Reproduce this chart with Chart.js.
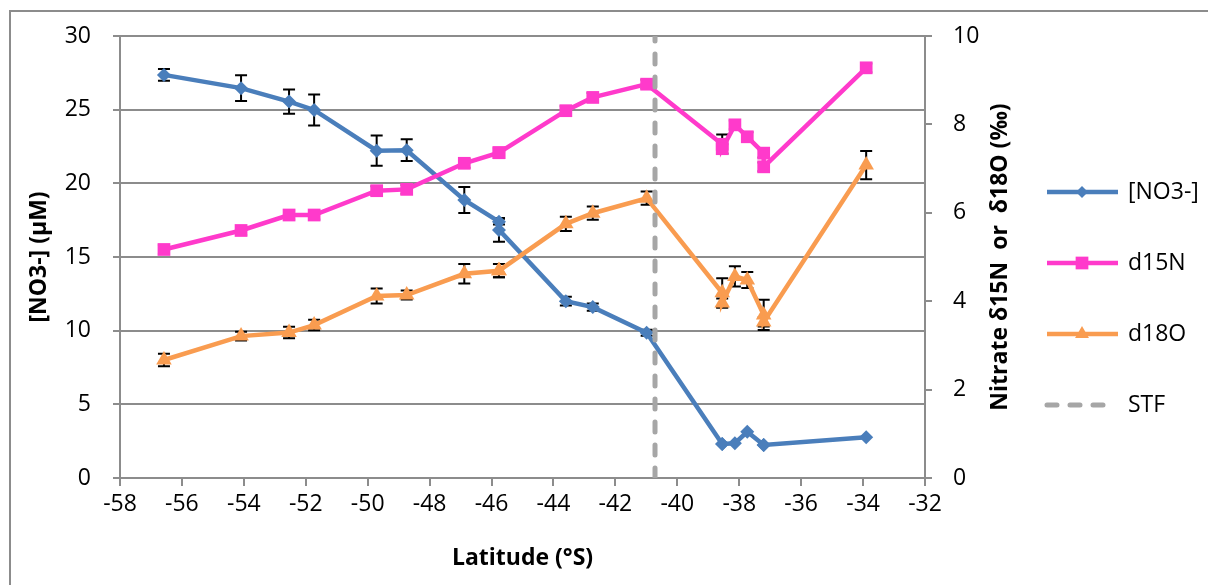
<!DOCTYPE html>
<html>
<head>
<meta charset="utf-8">
<script src="https://cdn.jsdelivr.net/npm/chart.js@4/dist/chart.umd.min.js"></script>
<style>
  html, body { margin: 0; padding: 0; background: #fff; overflow: hidden; }
  canvas { display: block; }
</style>
</head>
<body>
<canvas id="chart" width="1208" height="585"></canvas>
<script>
// --- values ---
const latitude = [-56.58, -54.09, -52.54, -51.73, -49.71, -48.74, -46.88, -45.76, -45.76, -43.6, -42.73, -40.99, -38.55, -38.55, -38.14, -37.74, -37.21, -37.21, -33.9];
const no3 = [27.36, 26.46, 25.55, 24.98, 22.22, 22.25, 18.87, 17.4, 16.84, 12.0, 11.6, 9.86, 2.31, 2.31, 2.36, 3.14, 2.24, 2.24, 2.76];
const no3Err = [0.4, 0.87, 0.82, 1.05, 1.02, 0.74, 0.88, 0.2, 0.8, 0.3, 0.25, 0.2, 0, 0, 0, 0, 0, 0, 0];
const d15n = [5.17, 5.6, 5.95, 5.95, 6.5, 6.53, 7.12, 7.36, 7.36, 8.31, 8.61, 8.91, 7.55, 7.45, 7.99, 7.72, 7.35, 7.04, 9.28];
const d15nErr = [0.1, 0.1, 0.1, 0.1, 0.1, 0.1, 0.1, 0.1, 0.1, 0.1, 0.1, 0.1, 0.22, 0.1, 0.1, 0.1, 0.1, 0.1, 0.1];
const d18o = [2.67, 3.21, 3.29, 3.46, 4.12, 4.14, 4.62, 4.69, 4.69, 5.75, 5.99, 6.33, 4.19, 3.96, 4.56, 4.48, 3.69, 3.53, 7.08];
const d18oErr = [0.14, 0.1, 0.13, 0.12, 0.17, 0.1, 0.22, 0.15, 0.15, 0.16, 0.15, 0.15, 0.33, 0.1, 0.23, 0.18, 0.34, 0.1, 0.32];

// subtropical front marker
const stfLatitude = -40.72;
const stfSpan = [0, 30];

const seriesNames = ["[NO3-]", "d15N", "d18O", "STF"];

// axis ranges
const xMin = -58, xMax = -32, xStep = 2;
const leftMax = 30, leftStep = 5;
const rightMax = 10, rightStep = 2;

const xTitle = "Latitude (°S)";
const leftTitle = "[NO3-] (µM)";
const rightTitle = "Nitrate δ15N  or  δ18O (‰)";

// --- styling ---
const fontFamily = "'Open Sans', 'Liberation Sans', sans-serif";
const tickFont = { family: fontFamily, size: 23 };
const titleFont = { family: fontFamily, size: 23, weight: "bold" };
const gridColor = "#8c8c8c";

const pts = (ys) => latitude.map((x, i) => ({ x, y: ys[i] }));

// draw error bars under the series
const errorBars = {
	id: "errorBars",
	beforeDatasetsDraw(chart) {
		const ctx = chart.ctx;
		ctx.save();
		ctx.strokeStyle = "#000";
		ctx.lineWidth = 2;
		chart.data.datasets.forEach((ds, i) => {
			if (!ds.errors) return;
			const meta = chart.getDatasetMeta(i);
			const yScale = chart.scales[ds.yAxisID];
			meta.data.forEach((pt, j) => {
				const e = ds.errors[j];
				if (!e) return;
				const v = ds.data[j].y;
				const top = yScale.getPixelForValue(v + e);
				const bot = yScale.getPixelForValue(v - e);
				ctx.beginPath();
				ctx.moveTo(pt.x, top);
				ctx.lineTo(pt.x, bot);
				ctx.moveTo(pt.x - 6, top);
				ctx.lineTo(pt.x + 6, top);
				ctx.moveTo(pt.x - 6, bot);
				ctx.lineTo(pt.x + 6, bot);
				ctx.stroke();
			});
		});
		ctx.restore();
	},
};

// white background and outer frame
const frame = {
	id: "frame",
	beforeDraw(chart) {
		const ctx = chart.ctx;
		ctx.save();
		ctx.fillStyle = "#fff";
		ctx.fillRect(0, 0, chart.width, chart.height);
		ctx.strokeStyle = "#8c8c8c";
		ctx.lineWidth = 2;
		ctx.beginPath();
		ctx.moveTo(10, chart.height);
		ctx.lineTo(10, 11);
		ctx.lineTo(chart.width, 11);
		ctx.stroke();
		ctx.restore();
	},
};

// right axis title (reads bottom to top) and legend
const extras = {
	id: "extras",
	afterDraw(chart) {
		const ctx = chart.ctx;
		const area = chart.chartArea;
		ctx.save();
		ctx.fillStyle = "#000";
		ctx.font = "bold 23px " + fontFamily;
		ctx.textAlign = "center";
		ctx.textBaseline = "middle";
		ctx.translate(1000, (area.top + area.bottom) / 2);
		ctx.rotate(-Math.PI / 2);
		ctx.fillText(rightTitle, 0, 0);
		ctx.restore();

		const rows = [192, 263, 334, 405];
		chart.data.datasets.forEach((ds, i) => {
			const y = rows[i];
			ctx.save();
			ctx.strokeStyle = ds.borderColor;
			ctx.lineWidth = ds.borderWidth;
			ctx.lineCap = ds.borderDash ? "round" : "butt";
			ctx.setLineDash(ds.borderDash || []);
			ctx.beginPath();
			ctx.moveTo(1047, y);
			ctx.lineTo(ds.borderDash ? 1110 : 1118, y);
			ctx.stroke();
			ctx.setLineDash([]);
			if (ds.pointRadius > 0) {
				ctx.fillStyle = ds.pointBackgroundColor;
				Chart.helpers.drawPoint(ctx, { pointStyle: ds.pointStyle, radius: ds.legendRadius, borderWidth: 0, rotation: 0 }, 1082, y);
			}
			ctx.fillStyle = "#000";
			ctx.font = "23px " + fontFamily;
			ctx.textAlign = "left";
			ctx.textBaseline = "middle";
			ctx.fillText(ds.label, 1128, y);
			ctx.restore();
		});
	},
};

new Chart(document.getElementById("chart"), {
	type: "scatter",
	data: {
		datasets: [
			{
				label: seriesNames[0],
				data: pts(no3),
				errors: no3Err,
				yAxisID: "yLeft",
				showLine: true,
				borderColor: "#4a7ebb",
				borderWidth: 4.5,
				pointStyle: "rectRot",
				pointRadius: 7,
				legendRadius: 6,
				pointBackgroundColor: "#4a7ebb",
				pointBorderWidth: 0,
				order: 3,
			},
			{
				label: seriesNames[1],
				data: pts(d15n),
				errors: d15nErr,
				yAxisID: "yRight",
				showLine: true,
				borderColor: "#ff3acb",
				borderWidth: 4.5,
				pointStyle: "rect",
				pointRadius: 9,
				legendRadius: 9,
				pointBackgroundColor: "#ff3acb",
				pointBorderWidth: 0,
				order: 2,
			},
			{
				label: seriesNames[2],
				data: pts(d18o),
				errors: d18oErr,
				yAxisID: "yRight",
				showLine: true,
				borderColor: "#f99c50",
				borderWidth: 4.5,
				pointStyle: "triangle",
				pointRadius: 9,
				legendRadius: 8,
				pointBackgroundColor: "#f99c50",
				pointBorderWidth: 0,
				order: 1,
			},
			{
				label: seriesNames[3],
				data: stfSpan.map((y) => ({ x: stfLatitude, y })),
				yAxisID: "yLeft",
				showLine: true,
				borderColor: "#a6a6a6",
				borderWidth: 5,
				borderDash: [10, 13],
				borderCapStyle: "round",
				pointRadius: 0,
				order: 0,
			},
		],
	},
	options: {
		responsive: false,
		devicePixelRatio: 1,
		animation: false,
		layout: { padding: { left: 0, right: 193, top: 36, bottom: 0 } },
		plugins: { legend: { display: false }, tooltip: { enabled: false } },
		scales: {
			x: {
				type: "linear",
				position: "bottom",
				min: xMin,
				max: xMax,
				ticks: { stepSize: xStep, autoSkip: false, maxRotation: 0, color: "#000", font: tickFont, padding: 5 },
				grid: { drawOnChartArea: false, drawTicks: true, tickLength: 8, color: gridColor, lineWidth: 2 },
				border: { color: gridColor, width: 2 },
				title: { display: true, text: xTitle, color: "#000", font: titleFont, padding: { top: 0, bottom: 13 } },
				afterFit: (s) => { s.height = 107; },
			},
			yLeft: {
				type: "linear",
				position: "left",
				min: 0,
				max: leftMax,
				ticks: { stepSize: leftStep, color: "#000", font: tickFont, padding: 22 },
				grid: { drawOnChartArea: true, drawTicks: true, tickLength: 7, color: gridColor, lineWidth: 2 },
				border: { color: gridColor, width: 2 },
				title: { display: true, text: leftTitle, color: "#000", font: titleFont, padding: { top: 26, bottom: 0 } },
				afterFit: (s) => { s.width = 120; },
			},
			yRight: {
				type: "linear",
				position: "right",
				min: 0,
				max: rightMax,
				ticks: { stepSize: rightStep, color: "#000", font: tickFont, padding: 21 },
				grid: { drawOnChartArea: false, drawTicks: true, tickLength: 7, color: gridColor, lineWidth: 2 },
				border: { color: gridColor, width: 2 },
				afterFit: (s) => { s.width = 90; },
			},
		},
	},
	plugins: [frame, errorBars, extras],
});
</script>
</body>
</html>
